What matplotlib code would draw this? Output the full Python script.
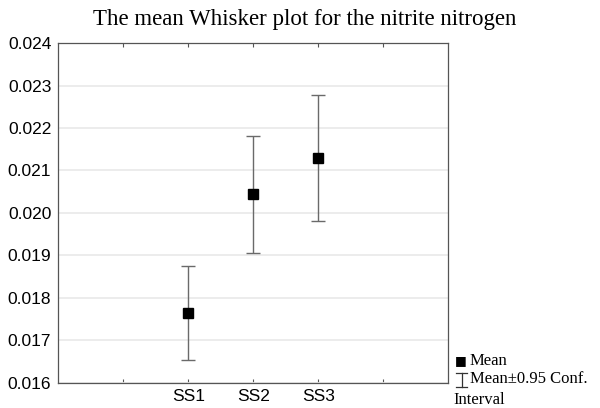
import matplotlib
matplotlib.use("Agg")
import matplotlib.pyplot as plt
from matplotlib.lines import Line2D

categories = ["SS1", "SS2", "SS3"]
means = [0.01765, 0.02045, 0.02130]
upper = [0.01875, 0.02180, 0.02278]
lower = [0.01655, 0.01907, 0.01980]

W, H = 600, 408
fig = plt.figure(figsize=(6.0, 4.08), dpi=100)
ax = fig.add_axes([0.097, 0.0613, 0.650, 0.8333])

pos = [2, 3, 4]
err_lo = [m - l for m, l in zip(means, lower)]
err_hi = [u - m for m, u in zip(means, upper)]
ax.errorbar(pos, means, yerr=[err_lo, err_hi], fmt="none", ecolor="#6a6a6a",
            elinewidth=1.0, capsize=4.7, capthick=1.0, zorder=2)
ax.plot(pos, means, "s", color="black", markersize=7, zorder=3)

ax.set_xlim(0, 6)
ax.set_ylim(0.016, 0.024)
ax.set_yticks([0.016 + 0.001 * i for i in range(9)])
ax.set_yticklabels([f"{0.016 + 0.001 * i:.3f}" for i in range(9)],
                   fontfamily="Liberation Sans", fontsize=12.5)
ax.set_xticks([1, 2, 3, 4, 5])
ax.set_xticklabels(["", "SS1", "SS2", "SS3", ""], fontfamily="Liberation Sans", fontsize=12.5)
ax.tick_params(axis="both", direction="in", length=3, color="#555555", top=True, right=False)
ax.tick_params(axis="y", length=0, pad=5)
ax.tick_params(axis="x", pad=4)
ax.grid(axis="y", color="#ebebeb", linewidth=1.3)
ax.set_axisbelow(True)
for s in ax.spines.values():
    s.set_color("#555555")
    s.set_linewidth(0.9)

fig.text(0.507, 0.953, "The mean Whisker plot for the nitrite nitrogen",
         ha="center", va="center", fontfamily="Liberation Serif", fontsize=16.5)

# legend outside, bottom right
fig.text(0.758, 0.117, "\u25A0", fontsize=9, fontfamily="DejaVu Sans", va="center")
fig.text(0.783, 0.115, "Mean", fontsize=12, fontfamily="Liberation Serif", va="center")
def px(x, y):
    return x / W, 1 - y / H
x0, x1, xm = 456, 467, 461.5
yt, yb = 373, 387
for (xa, ya), (xb, yb2) in [((x0, yt), (x1, yt)), ((x0, yb), (x1, yb)), ((xm, yt), (xm, yb))]:
    a = px(xa, ya); b = px(xb, yb2)
    fig.add_artist(Line2D([a[0], b[0]], [a[1], b[1]], color="#333333", linewidth=0.9,
                          transform=fig.transFigure))
fig.text(0.783, 0.071, "Mean\u00b10.95 Conf.", fontsize=12, fontfamily="Liberation Serif", va="center")
fig.text(0.755, 0.020, "Interval", fontsize=12, fontfamily="Liberation Serif", va="center")

fig.savefig("out.png", dpi=100)
